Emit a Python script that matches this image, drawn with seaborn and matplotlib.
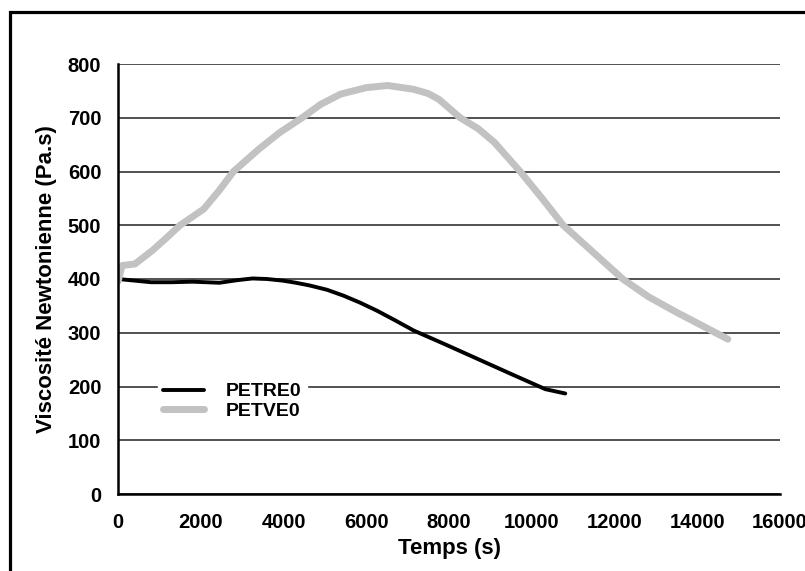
import numpy as np
import pandas as pd
import matplotlib
matplotlib.use('Agg')
import matplotlib.pyplot as plt
import seaborn as sns
from matplotlib.patches import Rectangle

# data
t_re = [0, 400, 800, 1300, 1800, 2450, 2900, 3250, 3600, 3980, 4300, 4630, 5050, 5450, 5850,
        6260, 6700, 7150, 7890, 8700, 9510, 10330, 10810]
v_re = [400, 397, 394, 394, 395, 393, 398, 401, 400, 397, 393, 388, 380, 369, 356,
        341, 323, 304, 279, 251, 223, 195, 187]

t_ve = [0, 100, 410, 830, 1150, 1500, 2070, 2450, 2790, 3410, 3900, 4450, 4900, 5380, 6000,
        6520, 7140, 7500, 7760, 8270, 8700, 9100, 9720, 10250, 10760, 11480, 12200, 12820,
        13500, 14000, 14740]
v_ve = [395, 425, 428, 453, 475, 500, 530, 565, 600, 642, 672, 700, 725, 744, 756,
        760, 753, 745, 734, 700, 680, 654, 600, 550, 500, 450, 400, 367,
        338, 318, 288]

labels = ['PETRE0', 'PETVE0']

sns.set_style('white')
plt.rcParams['font.family'] = ['Liberation Sans', 'DejaVu Sans']
plt.rcParams['font.weight'] = 'bold'
plt.rcParams['text.color'] = 'black'
plt.rcParams['axes.labelcolor'] = 'black'
plt.rcParams['xtick.color'] = 'black'
plt.rcParams['ytick.color'] = 'black'

df = pd.concat([
    pd.DataFrame({'t': t_re, 'v': v_re, 's': labels[0]}),
    pd.DataFrame({'t': t_ve, 'v': v_ve, 's': labels[1]}),
])

fig = plt.figure(figsize=(8.05, 5.71), dpi=100)
ax = fig.add_axes([118/805, 77/571, 662/805, 430/571])

sns.lineplot(data=df, x='t', y='v', hue='s', palette={'PETRE0': 'black', 'PETVE0': '#c2c2c2'},
             size='s', sizes={'PETRE0': 2.8, 'PETVE0': 5.0}, ax=ax, sort=False)

ax.set_xlim(0, 16000)
ax.set_ylim(0, 800)
ax.set_xticks(range(0, 16001, 2000))
ax.set_yticks(range(0, 801, 100))
ax.yaxis.grid(True, color='#333333', lw=1.2)
ax.set_axisbelow(True)
for s in ['top', 'right']:
    ax.spines[s].set_visible(False)
for s in ['left', 'bottom']:
    ax.spines[s].set_linewidth(1.8)
    ax.spines[s].set_color('black')
ax.tick_params(axis='both', direction='out', length=5, width=1.8, labelsize=14.5, color='black')
ax.tick_params(axis='y', pad=7)
ax.tick_params(axis='x', pad=9)
for lab in ax.get_xticklabels() + ax.get_yticklabels():
    lab.set_fontweight('bold')

ax.set_xlabel('Temps (s)', fontsize=16, fontweight='bold', labelpad=4)
ax.set_ylabel('Viscosité Newtonienne (Pa.s)', fontsize=16, fontweight='bold', labelpad=8)

h, l = ax.get_legend_handles_labels()
leg = ax.legend(h, l, loc='upper left', bbox_to_anchor=(0.045, 0.295), frameon=True,
                fancybox=False, edgecolor='white', facecolor='white', framealpha=1,
                fontsize=14, handlelength=2.1, handletextpad=1.1, labelspacing=0.1,
                borderpad=0.3)
for txt in leg.get_texts():
    txt.set_fontweight('bold')

# outer frame (cropped on the right and bottom)
fig.patches.append(Rectangle((10/805, -0.1), 1.5, 1.1 - 12/571, transform=fig.transFigure,
                             fill=False, edgecolor='black', lw=2.3))

fig.savefig('out.png', dpi=100)
